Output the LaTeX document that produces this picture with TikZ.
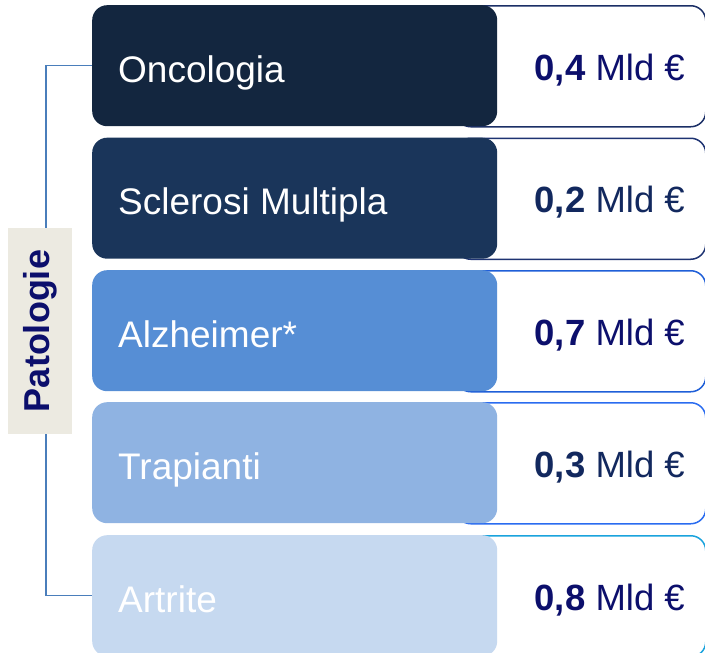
\documentclass[tikz,border=0pt]{standalone}
\usepackage{fontspec}
\setmainfont{Liberation Sans}
\begin{document}
\begin{tikzpicture}[x=1pt,y=-1pt]
\definecolor{fA}{HTML}{13263F}
\definecolor{fB}{HTML}{1A355A}
\definecolor{fC}{HTML}{568ED5}
\definecolor{fD}{HTML}{8FB3E2}
\definecolor{fE}{HTML}{C6D9F0}
\definecolor{oA}{HTML}{1B2F66}
\definecolor{oB}{HTML}{1E3372}
\definecolor{oC}{HTML}{1F5FD8}
\definecolor{oD}{HTML}{2A6CF0}
\definecolor{oE}{HTML}{1AA3DD}
\definecolor{tA}{HTML}{0C0F6C}
\definecolor{tB}{HTML}{12285E}
\definecolor{beige}{HTML}{ECEAE1}
\definecolor{bracket}{HTML}{4A7EBB}
\tikzset{
  leftbox/.style={rectangle, rounded corners=15pt, minimum width=405pt, minimum height=121pt, inner sep=0pt, anchor=north west, draw=none},
  valbox/.style={rectangle, rounded corners=15pt, minimum width=250pt, minimum height=121pt, inner sep=0pt, anchor=north west, fill=white, line width=1.5pt},
  lbl/.style={anchor=base west, text=white, inner sep=0pt, font=\fontsize{37}{44}\selectfont},
  val/.style={anchor=base east, inner sep=0pt, font=\fontsize{36.5}{44}\selectfont},
}
\useasboundingbox (0,0) rectangle (705,653);
% value outline boxes
\node[valbox, draw=oA] (v1) at (455,5) {};
\node[valbox, draw=oB] (v2) at (455,137.5) {};
\node[valbox, draw=oC] (v3) at (455,270) {};
\node[valbox, draw=oD] (v4) at (455,402) {};
\node[valbox, draw=oE] (v5) at (455,535) {};
% coloured boxes
\node[leftbox, fill=fA] (b1) at (92,5) {};
\node[leftbox, fill=fB] (b2) at (92,137.5) {};
\node[leftbox, fill=fC] (b3) at (92,270) {};
\node[leftbox, fill=fD] (b4) at (92,402) {};
\node[leftbox, fill=fE] (b5) at (92,535) {};
% labels
\node[lbl] (l1) at (118,82) {Oncologia};
\node[lbl] (l2) at (118,214.5) {Sclerosi Multipla};
\node[lbl] (l3) at (118,347) {Alzheimer*};
\node[lbl] (l4) at (118,479) {Trapianti};
\node[lbl] (l5) at (118,612) {Artrite};
% values
\node[val, text=tA] (t1) at (685,80) {\textbf{0,4} Mld €};
\node[val, text=tB] (t2) at (685,212.5) {\textbf{0,2} Mld €};
\node[val, text=tA] (t3) at (685,345) {\textbf{0,7} Mld €};
\node[val, text=tB] (t4) at (685,477) {\textbf{0,3} Mld €};
\node[val, text=tA] (t5) at (685,610) {\textbf{0,8} Mld €};
% bracket
\draw[bracket, line width=1.5pt] (b1.west) -- ++(-46,0) coordinate (c1) |- (b5.west);
% Patologie label
\node[rotate=90, fill=beige, minimum width=206pt, minimum height=64pt, inner sep=0pt, text=tA, font=\bfseries\fontsize{36}{40}\selectfont] (pat) at (40,331) {Patologie};
\end{tikzpicture}
\end{document}
